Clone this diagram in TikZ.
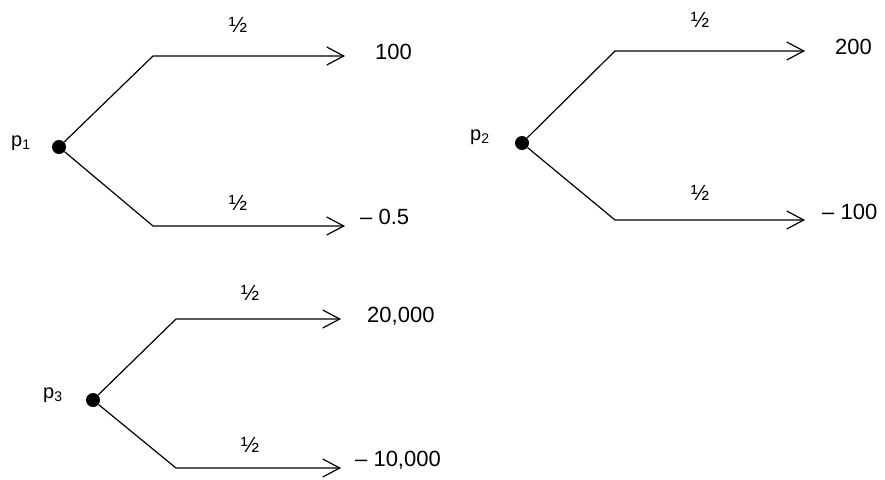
\documentclass[tikz,border=0pt]{standalone}
\usepackage{fontspec}
\setmainfont{Liberation Sans}
\usetikzlibrary{positioning, arrows.meta}

\begin{document}
\begin{tikzpicture}[
  x=1pt, y=-1pt,
  root/.style={circle, fill=black, inner sep=0pt, minimum size=14pt},
  plabel/.style={font=\fontsize{20}{24}\selectfont, inner sep=0pt},
  payoff/.style={font=\fontsize{22}{26}\selectfont, inner sep=0pt},
  prob/.style={font=\fontsize{22}{26}\selectfont, inner sep=0pt},
  arr/.style={-{Straight Barb[length=17pt, width=18pt, line width=1.2pt]}, line width=1.2pt},
]
\useasboundingbox (0,0) rectangle (885,479);

% === LOTTERY p1 ===
\node[root] (r1) at (59,147) {};
\node[plabel, left=21pt of r1, yshift=4pt] (p1) {p\textsubscript{1}};
\coordinate (u1) at (153,56);
\coordinate (ut1) at (345,56);
\coordinate (l1) at (153,226);
\coordinate (lt1) at (345,226);
\draw[arr] (r1) -- (u1) -- (ut1);
\draw[arr] (r1) -- (l1) -- (lt1);
\node[prob] (h1u) at (238,25) {½};
\node[prob] (h1l) at (238,203) {½};
\node[payoff, right=30pt of ut1, yshift=4pt] (o1u) {100};
\node[payoff, right=15pt of lt1, yshift=9pt] (o1l) {– 0.5};

% === LOTTERY p2 ===
\node[root] (r2) at (522,143) {};
\node[plabel, left=25pt of r2, yshift=6pt] (p2) {p\textsubscript{2}};
\coordinate (u2) at (615,51);
\coordinate (ut2) at (805,51);
\coordinate (l2) at (615,220);
\coordinate (lt2) at (805,220);
\draw[arr] (r2) -- (u2) -- (ut2);
\draw[arr] (r2) -- (l2) -- (lt2);
\node[prob] (h2u) at (700,20) {½};
\node[prob] (h2l) at (700,193) {½};
\node[payoff, right=30pt of ut2, yshift=4pt] (o2u) {200};
\node[payoff, right=17pt of lt2, yshift=8pt] (o2l) {– 100};

% === LOTTERY p3 ===
\node[root] (r3) at (93,400) {};
\node[plabel, left=23pt of r3, yshift=5pt] (p3) {p\textsubscript{3}};
\coordinate (u3) at (176,319);
\coordinate (ut3) at (341,319);
\coordinate (l3) at (176,468);
\coordinate (lt3) at (341,468);
\draw[arr] (r3) -- (u3) -- (ut3);
\draw[arr] (r3) -- (l3) -- (lt3);
\node[prob] (h3u) at (250,293) {½};
\node[prob] (h3l) at (250,445) {½};
\node[payoff, right=26pt of ut3, yshift=3pt] (o3u) {20,000};
\node[payoff, right=14pt of lt3, yshift=8pt] (o3l) {– 10,000};

\end{tikzpicture}
\end{document}
